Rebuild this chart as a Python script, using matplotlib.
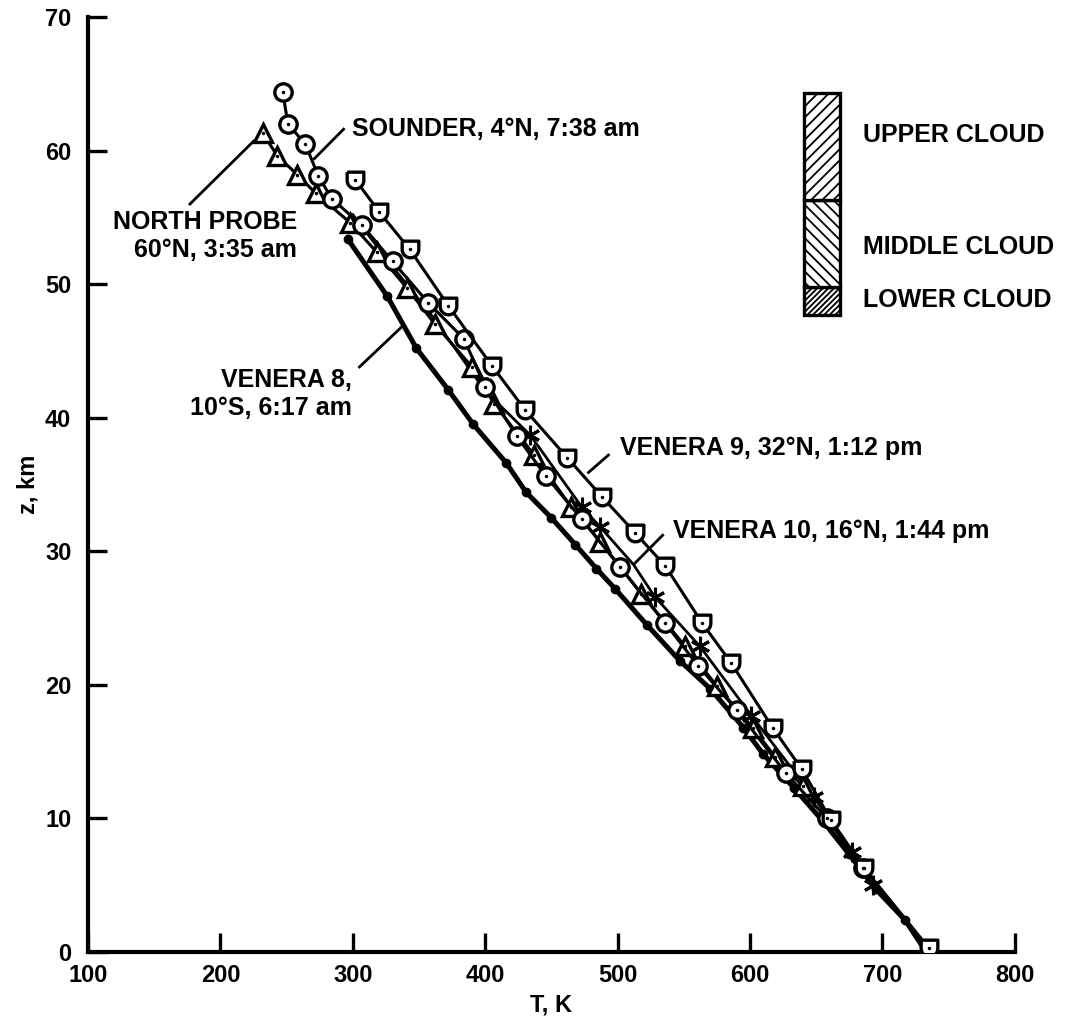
import numpy as np
import matplotlib
matplotlib.use('Agg')
import matplotlib.pyplot as plt
from matplotlib.patches import Rectangle

plt.rcParams['font.family'] = ['Liberation Sans', 'DejaVu Sans']
plt.rcParams['font.weight'] = 'bold'
plt.rcParams['axes.labelweight'] = 'bold'
plt.rcParams['hatch.linewidth'] = 1.3

# Temperature profiles, T (K) vs altitude z (km)
north_T = [232, 243, 258, 272, 298, 318, 341, 362, 390, 407, 437, 465, 487, 518, 551, 575, 602, 619, 640]
north_z = [61.3, 59.6, 58.2, 56.8, 54.6, 52.4, 49.7, 47.0, 43.8, 41.0, 37.2, 33.3, 30.7, 26.8, 22.9, 19.9, 16.8, 14.6, 12.4]

sounder_T = [247, 251, 264, 274, 284, 307, 330, 357, 384, 400, 424, 446, 473, 502, 536, 561, 590, 627, 658, 685]
sounder_z = [64.4, 62.0, 60.5, 58.1, 56.4, 54.4, 51.7, 48.6, 45.9, 42.3, 38.6, 35.6, 32.4, 28.8, 24.6, 21.4, 18.1, 13.4, 10.0, 6.3]

venera9_T = [302, 320, 343, 372, 405, 430, 462, 488, 513, 536, 564, 586, 617, 639, 661, 686, 735]
venera9_z = [57.8, 55.4, 52.6, 48.4, 43.9, 40.6, 37.0, 34.1, 31.4, 28.9, 24.6, 21.6, 16.8, 13.7, 9.9, 6.3, 0.3]

venera10_T = [300, 330, 360, 400, 434, 473, 487, 512, 528, 562, 601, 648, 677, 693, 735]
venera10_z = [55.2, 51.3, 47.6, 42.0, 38.7, 33.3, 31.8, 29.0, 26.6, 22.9, 17.7, 11.6, 7.5, 5.0, 0.3]
venera10_marks = [4, 5, 6, 8, 9, 10, 11, 12, 13]

venera8_T = [296, 326, 348, 372, 391, 416, 431, 450, 468, 484, 498, 522, 547, 570, 595, 610, 633, 655, 675, 695, 717, 733]
venera8_z = [53.4, 49.1, 45.2, 42.1, 39.5, 36.6, 34.4, 32.5, 30.5, 28.7, 27.2, 24.5, 21.8, 19.7, 16.8, 14.8, 12.3, 9.8, 7.3, 4.7, 2.4, 0.0]

# cloud layers (km): bottom, lower/middle, middle/upper, top
cloud_bounds = [47.7, 49.8, 56.3, 64.3]
cloud_names = ['LOWER CLOUD', 'MIDDLE CLOUD', 'UPPER CLOUD']
cloud_label_z = [48.8, 52.8, 61.2]
cloud_hatch = ['//////', '\\\\\\', '///']

# shield-shaped marker used for Venera 9
th = np.linspace(0, -np.pi, 15)
shield = [(-1, 1), (1, 1)] + list(zip(np.cos(th), np.sin(th))) + [(-1, 1)]

fig = plt.figure(figsize=(10.84, 10.19), dpi=100)
ax = fig.add_axes([0.0812, 0.0658, 0.855, 0.9175])

ax.plot(venera8_T, venera8_z, '-', color='black', lw=3.6, marker='o', ms=6, zorder=2)
ax.plot(venera10_T, venera10_z, '-', color='black', lw=2.0, marker=(6, 2, 0), ms=14,
        mew=2.2, markevery=venera10_marks, zorder=3)
ax.plot(north_T, north_z, '-', color='black', lw=2.2, marker='^', ms=13, mfc='white',
        mec='black', mew=2.4, zorder=4)
ax.plot(north_T, north_z, 'k.', ms=3, zorder=5)
ax.plot(sounder_T, sounder_z, '-', color='black', lw=2.2, marker='o', ms=12.5, mfc='white',
        mec='black', mew=2.4, zorder=4)
ax.plot(sounder_T, sounder_z, 'k.', ms=3, zorder=5)
ax.plot(venera9_T, venera9_z, '-', color='black', lw=2.2, marker=shield, ms=12, mfc='white',
        mec='black', mew=2.4, zorder=4)
ax.plot(venera9_T, venera9_z, 'k.', ms=3, zorder=5)

# cloud legend box
fs = 18
for i in range(3):
    ax.add_patch(Rectangle((641, cloud_bounds[i]), 27, cloud_bounds[i + 1] - cloud_bounds[i],
                           facecolor='white', edgecolor='black', lw=2.4, hatch=cloud_hatch[i]))
    ax.text(685, cloud_label_z[i], cloud_names[i], fontsize=fs, va='center', ha='left')

# annotations
ax.text(299, 61.6, 'SOUNDER, 4°N, 7:38 am', fontsize=fs, va='center')
ax.plot([293, 271], [61.6, 59.4], color='black', lw=2)
ax.text(258, 53.6, 'NORTH PROBE\n60°N, 3:35 am', fontsize=fs, va='center', ha='right',
        linespacing=1.2)
ax.plot([225, 177], [60.7, 56.0], color='black', lw=2)
ax.text(299, 41.75, 'VENERA 8,\n10°S, 6:17 am', fontsize=fs, va='center', ha='right',
        linespacing=1.2)
ax.plot([305, 338], [43.8, 46.9], color='black', lw=2)
ax.text(502, 37.7, 'VENERA 9, 32°N, 1:12 pm', fontsize=fs, va='center')
ax.plot([493, 478], [37.2, 35.9], color='black', lw=2)
ax.text(542, 31.5, 'VENERA 10, 16°N, 1:44 pm', fontsize=fs, va='center')
ax.plot([534, 513], [31.2, 29.1], color='black', lw=2)

ax.set_xlim(100, 800)
ax.set_ylim(0, 70)
ax.set_xticks(range(100, 801, 100))
ax.set_yticks(range(0, 71, 10))
ax.spines['top'].set_visible(False)
ax.spines['right'].set_visible(False)
ax.spines['left'].set_linewidth(3)
ax.spines['bottom'].set_linewidth(3)
ax.tick_params(direction='in', length=14, width=2.4, labelsize=17)
ax.tick_params(axis='x', pad=9)
ax.tick_params(axis='y', pad=12)
ax.set_xlabel('T, K', fontsize=17, fontweight='bold', labelpad=4)
ax.set_ylabel('z, km', fontsize=17, fontweight='bold', labelpad=4)

fig.savefig('out.png', dpi=100)
